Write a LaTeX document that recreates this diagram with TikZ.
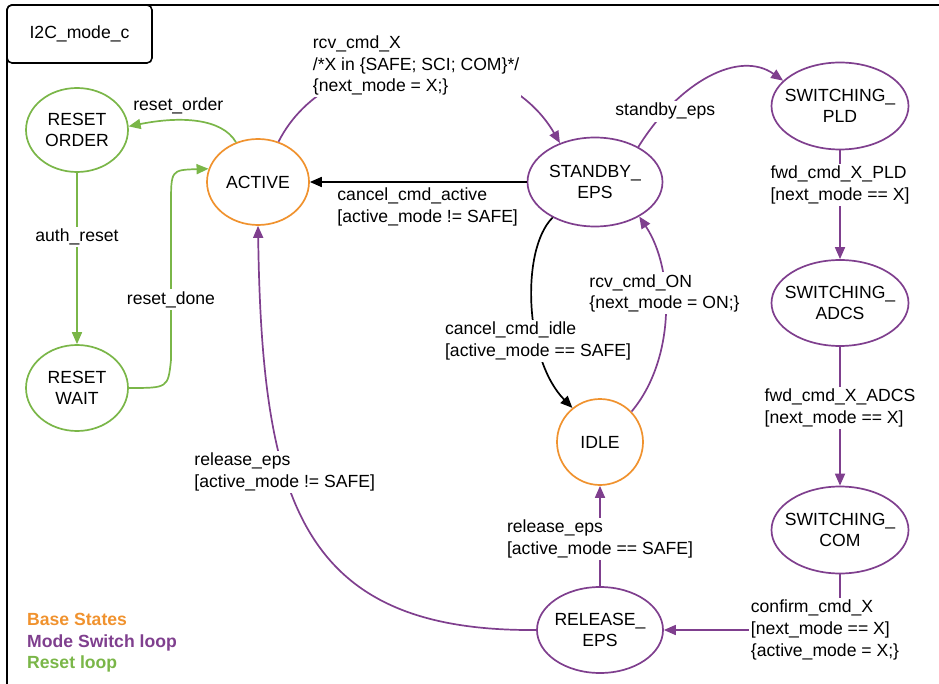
\documentclass[tikz,border=0pt]{standalone}
\usepackage{fontspec}
\setmainfont{Liberation Sans}
\usetikzlibrary{shapes.geometric,arrows.meta,positioning}
\definecolor{baseorange}{HTML}{F0922E}
\definecolor{modepurple}{HTML}{7F3F8E}
\definecolor{resetgreen}{HTML}{7AB648}

\begin{document}
\begin{tikzpicture}[
        x=1pt, y=-1pt,
        font=\fontsize{17.6}{21.7}\selectfont,
        state/.style={ellipse, draw, line width=1.7pt, fill=white, text=black, align=center, inner xsep=-12pt, inner ysep=0pt, minimum width=102pt, minimum height=86pt},
        basestate/.style={state, draw=baseorange},
        modestate/.style={state, draw=modepurple},
        resetstate/.style={state, draw=resetgreen},
        switchstate/.style={modestate, minimum width=137pt, minimum height=87pt, text depth=-10pt},
        arrow/.style={-{Triangle[length=12pt,width=10pt]}, line width=1.7pt},
        note/.style={inner sep=2pt, align=left, text=black},
        trans/.style={note, fill=white},
        legend/.style={anchor=base west, inner sep=2pt, font=\fontsize{17.6}{21.7}\selectfont\bfseries}
    ]
        \useasboundingbox (0,0) rectangle (939,684);

        % Frame and title
        \draw[line width=1.9pt, rounded corners=6pt] (7,5) rectangle (950,692);
        \node[draw, line width=1.6pt, rounded corners=5pt, fill=white, minimum width=145pt, minimum height=58pt] (title) at (79.5,34) {I2C\_mode\_c};

        % Reset states
        \node[resetstate, minimum height=84pt] (order) at (77,130) {RESET\\ORDER};
        \node[resetstate] (wait) at (77,388) {RESET\\WAIT};

        % Base states
        \node[basestate] (active) at (258,182) {ACTIVE};
        \node[basestate, minimum width=86pt] (idle) at (600,442) {IDLE};

        % Mode switch states
        \node[modestate, minimum width=135pt, minimum height=89pt] (standby) at (595,182) {STANDBY\_\\EPS};
        \node[switchstate] (pld) at (840,106) {SWITCHING\_\\PLD};
        \node[switchstate, minimum height=86pt] (adcs) at (840,303) {SWITCHING\_\\ADCS};
        \node[switchstate] (com) at (840,530) {SWITCHING\_\\COM};
        \node[modestate, minimum width=126pt] (release) at (600,630) {RELEASE\_\\EPS};

        % Reset loop
        \draw[arrow, resetgreen] (active.119) .. controls (222,118) and (180,116) .. (order.4) node[note, pos=0.65, above=4pt] {reset\_order};
        \draw[arrow, resetgreen] (order) -- node[trans, pos=0.376] {auth\_reset} (wait);
        \draw[arrow, resetgreen] (wait.east) .. controls (168,388) .. (171,360) -- (171,205) node[trans, pos=0.39] {reset\_done} .. controls (171,170) .. (active.165);

        % Mode switch loop
        \draw[arrow, modepurple] (active.63) .. controls (330,40) and (500,40) .. (standby.132) node[trans, midway] {rcv\_cmd\_X\\/*X in \{SAFE; SCI; COM\}*/\\\{next\_mode = X;\}};
        \draw[arrow, modepurple] (standby.39) .. controls (680,80) and (740,50) .. (pld.156) node[trans, pos=0.2] {standby\_eps};
        \draw[arrow, modepurple] (pld) -- node[trans, pos=0.32] {fwd\_cmd\_X\_PLD\\{[}next\_mode == X]} (adcs);
        \draw[arrow, modepurple] (adcs) -- node[trans, pos=0.44] {fwd\_cmd\_X\_ADCS\\{[}next\_mode == X]} (com);
        \draw[arrow, modepurple] (com.south) |- node[trans, pos=0.5, xshift=-15pt] {confirm\_cmd\_X\\{[}next\_mode == X]\\\{active\_mode = X;\}} (release.east);
        \draw[arrow, modepurple] (release) -- node[trans, pos=0.47] {release\_eps\\{[}active\_mode == SAFE]} (idle);
        \draw[arrow, modepurple] (release.west) .. controls (300,632) and (262,500) .. (active.south) node[trans, pos=0.63] {release\_eps\\{[}active\_mode != SAFE]};
        \draw[arrow, modepurple] (idle.44) .. controls (675,360) and (675,270) .. (standby.-38) node[trans, pos=0.6] {rcv\_cmd\_ON\\\{next\_mode = ON;\}};

        % Cancel transitions
        \draw[arrow] (standby.west) -- (active.east) node[note, pos=0.886, anchor=north west, yshift=-3pt] {cancel\_cmd\_active\\{[}active\_mode != SAFE]};
        \draw[arrow] (standby.220) .. controls (520,250) and (525,360) .. (idle.129) node[trans, pos=0.65] {cancel\_cmd\_idle\\{[}active\_mode == SAFE]};

        % Legend
        \node[legend, text=baseorange] (legbase) at (25,625) {Base States};
        \node[legend, text=modepurple] (legmode) at (25,647) {Mode Switch loop};
        \node[legend, text=resetgreen] (legreset) at (25,668) {Reset loop};
    \end{tikzpicture}
\end{document}
